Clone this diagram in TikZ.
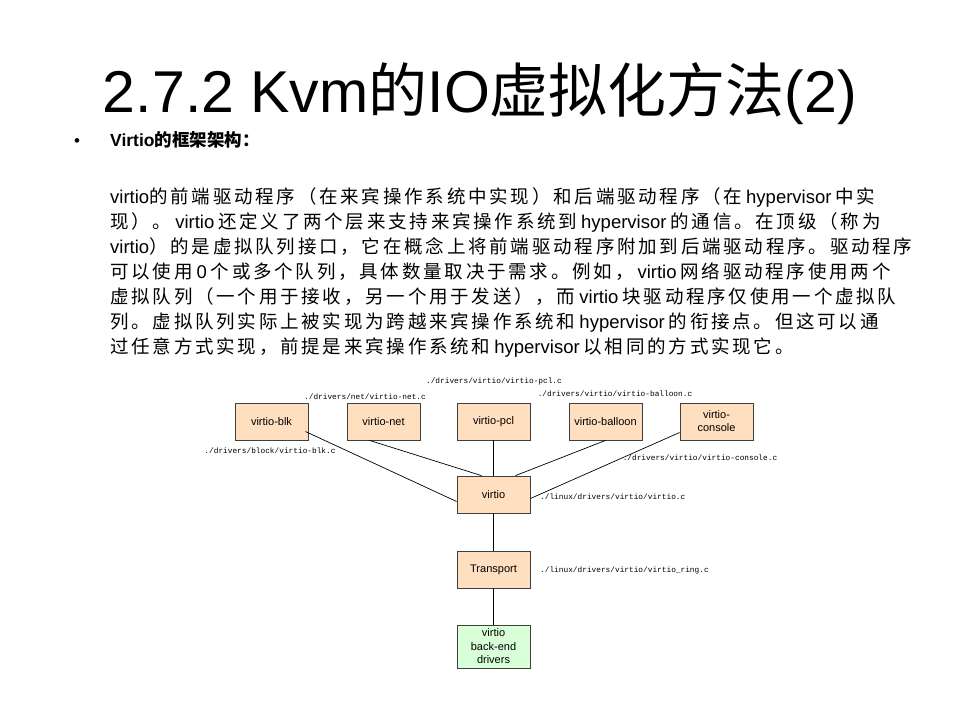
\documentclass[tikz,border=0pt]{standalone}
\usepackage{fontspec}
\setmainfont{Noto Sans CJK SC}
\newfontfamily\parf[LetterSpace=15]{Noto Sans CJK SC}
\newfontfamily\latf{Liberation Sans}
\newfontfamily\monof{Liberation Mono}
\newcommand\lt[1]{{\latf #1}}
\newcommand\lp[1]{\hspace{4pt}{\latf #1}\hspace{4pt}}
\begin{document}
\begin{tikzpicture}[x=1pt,y=-1pt,
  bx/.style={draw=black!75,line width=0.8pt,fill=orange!25,minimum width=73pt,minimum height=37pt,inner sep=1pt,align=center,font=\latf\fontsize{11}{13}\selectfont},
  gbx/.style={bx,fill=green!15},
  pth/.style={font=\monof\fontsize{7.8}{9}\selectfont,inner sep=0pt},
  ln/.style={anchor=base west,inner sep=0pt,font=\parf\fontsize{18.5}{20}\selectfont},
  cn/.style={line width=0.7pt}]
\path[fill=white] (0,0) rectangle (960,720);
\node[anchor=base,inner sep=0pt,font=\fontsize{59}{62}\selectfont] (title) at (480,112) {\lt{2.7.2 Kvm}的\lt{IO}虚拟化方法\lt{(2)}};
\node[anchor=base west,inner sep=0pt,font=\latf\fontsize{17}{18}\selectfont] (bul) at (74,146) {•};
\node[anchor=base west,inner sep=0pt,font=\bfseries\fontsize{17.5}{18}\selectfont] (head) at (110,146) {\lt{\bfseries Virtio}的框架架构：};
\node[ln] (l1) at (110,203) {\lt{virtio}的前端驱动程序（在来宾操作系统中实现）和后端驱动程序（在\lp{hypervisor}中实};
\node[ln] (l2) at (110,228) {现）。\lp{virtio}还定义了两个层来支持来宾操作系统到\lp{hypervisor}的通信。在顶级（称为};
\node[ln] (l3) at (110,253) {\lt{virtio}）的是虚拟队列接口，它在概念上将前端驱动程序附加到后端驱动程序。驱动程序};
\node[ln] (l4) at (110,278) {可以使用\lp{0}个或多个队列，具体数量取决于需求。例如，\lp{virtio}网络驱动程序使用两个};
\node[ln] (l5) at (110,303) {虚拟队列（一个用于接收，另一个用于发送），而\lp{virtio}块驱动程序仅使用一个虚拟队};
\node[ln] (l6) at (110,328) {列。虚拟队列实际上被实现为跨越来宾操作系统和\lp{hypervisor}的衔接点。但这可以通};
\node[ln] (l7) at (110,353) {过任意方式实现，前提是来宾操作系统和\lp{hypervisor}以相同的方式实现它。};
\node[bx] (blk) at (271.5,421.5) {virtio-blk};
\node[bx] (net) at (383.5,421.5) {virtio-net};
\node[bx] (pcl) at (493.5,421.5) {virtio-pcl};
\node[bx] (bal) at (605.5,421.5) {virtio-balloon};
\node[bx] (con) at (716.5,421.5) {virtio-\\console};
\node[bx] (vio) at (493.5,494.5) {virtio};
\node[bx] (tr) at (493.5,569.5) {Transport};
\node[gbx,minimum height=43pt,font=\latf\fontsize{11}{13.5}\selectfont] (be) at (493.5,646.5) {virtio\\back-end\\drivers};
\draw[cn] ([xshift=-3,yshift=-10]blk.east) -- ([yshift=-7]vio.west);
\draw[cn] ([xshift=-14]net.south) -- ([xshift=-12]vio.north);
\draw[cn] (pcl) -- (vio);
\draw[cn] (bal.south) -- ([xshift=22]vio.north);
\draw[cn] ([yshift=-11]con.west) -- ([yshift=-4]vio.east);
\draw[cn] (vio) -- (tr);
\draw[cn] (tr) -- (be);
\node[pth] (p1) at (494,381) {./drivers/virtio/virtio-pcl.c};
\node[pth] (p2) at (365,397) {./drivers/net/virtio-net.c};
\node[pth] (p3) at (615,394) {./drivers/virtio/virtio-balloon.c};
\node[pth] (p4) at (270,451) {./drivers/block/virtio-blk.c};
\node[pth] (p5) at (700,458) {./drivers/virtio/virtio-console.c};
\node[pth,anchor=west] (p6) at (540,497) {./linux/drivers/virtio/virtio.c};
\node[pth,anchor=west] (p7) at (540,570) {./linux/drivers/virtio/virtio\_ring.c};
\end{tikzpicture}
\end{document}
